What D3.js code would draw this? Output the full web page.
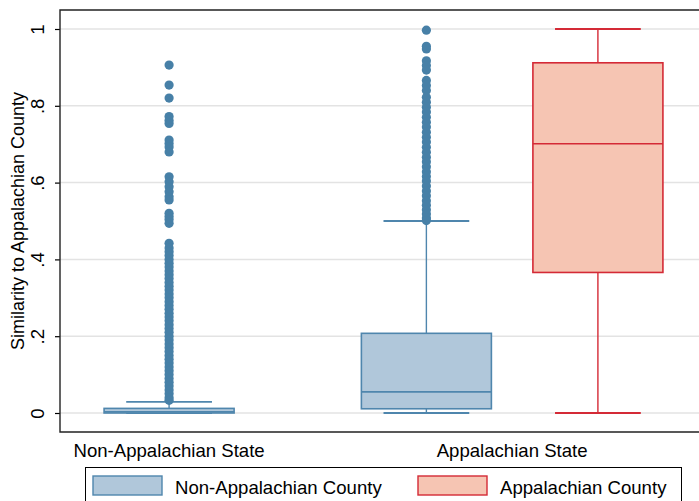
<!DOCTYPE html>
<html>
<head>
<meta charset="utf-8">
<script src="https://cdn.jsdelivr.net/npm/d3@7"></script>
<style>
  body { margin: 0; background: #fff; }
  text { font-family: "Liberation Sans", Arial, sans-serif; fill: #000; }
</style>
</head>
<body>
<div id="chart"></div>
<script>
// categories
var states = ["Non-Appalachian State", "Appalachian State"];
var countyTypes = ["Non-Appalachian County", "Appalachian County"];

// one entry per box
var boxState = ["Non-Appalachian State", "Appalachian State", "Appalachian State"];
var boxCounty = ["Non-Appalachian County", "Non-Appalachian County", "Appalachian County"];
var lowerWhisker = [0.0, 0.0, 0.0];
var q1 = [0.0, 0.011, 0.366];
var median = [0.003, 0.055, 0.701];
var q3 = [0.012, 0.2075, 0.912];
var upperWhisker = [0.029, 0.50, 1.0];

// outside values
var outliersNonAppState = [0.906, 0.854, 0.820, 0.772, 0.762, 0.754, 0.711, 0.702, 0.693, 0.680,
  0.615, 0.602, 0.589, 0.576, 0.563, 0.555, 0.520, 0.512, 0.504, 0.494, 0.442,
  0.430, 0.420, 0.410, 0.400, 0.390, 0.380, 0.370, 0.360, 0.350, 0.340, 0.330, 0.320,
  0.310, 0.300, 0.290, 0.280, 0.270, 0.260, 0.250, 0.240, 0.230, 0.220, 0.210, 0.200,
  0.190, 0.180, 0.170, 0.160, 0.150, 0.140, 0.130, 0.120, 0.110, 0.100, 0.090, 0.080,
  0.070, 0.060, 0.050, 0.040, 0.033];
var outliersAppStateNonApp = [0.997, 0.955, 0.948, 0.917, 0.905, 0.893, 0.866, 0.853, 0.840,
  0.822, 0.809, 0.796, 0.784, 0.770, 0.757, 0.745, 0.731, 0.718, 0.706, 0.692, 0.679,
  0.666, 0.654, 0.641, 0.628, 0.616, 0.604, 0.591, 0.578, 0.566, 0.553, 0.541, 0.529,
  0.518, 0.508, 0.501];
var outliersAppStateApp = [];
var outliers = [outliersNonAppState, outliersAppStateNonApp, outliersAppStateApp];

var yTicks = [0, 0.2, 0.4, 0.6, 0.8, 1];

var fillColor = {"Non-Appalachian County": "#b0c7da", "Appalachian County": "#f6c5b3"};
var lineColor = {"Non-Appalachian County": "#4f86ad", "Appalachian County": "#d42a36"};
var dotColor = "#4780a7";

var W = 699, H = 501;
var plot = {left: 60, top: 10, right: 707, bottom: 432};
var fontSize = "18.6px";

var svg = d3.select("#chart").append("svg")
    .attr("width", W)
    .attr("height", H);

// slot position of each box: boxes inside a state sit 1 apart, states 1.5 apart
var slots = [];
var s = 0;
boxState.forEach(function (st, i) {
    if (i > 0) s += (st === boxState[i - 1]) ? 1 : 1.5;
    slots.push(s);
});

var x = d3.scaleLinear()
    .domain([-0.636, slots[slots.length - 1] + 0.636])
    .range([plot.left, plot.right]);

var y = d3.scaleLinear()
    .domain([0, 1])
    .range([413, 29]);

var boxW = x(0.758) - x(0);
var capW = x(0.5) - x(0);

// grid
svg.append("g").selectAll("line")
    .data(yTicks)
    .enter().append("line")
    .attr("x1", plot.left).attr("x2", plot.right)
    .attr("y1", function (d) { return y(d); })
    .attr("y2", function (d) { return y(d); })
    .attr("stroke", "#e3e3e3")
    .attr("stroke-width", 1.5);

// y axis
var yAxis = svg.append("g")
    .attr("transform", "translate(" + plot.left + ",0)")
    .call(d3.axisLeft(y).tickValues(yTicks).tickSize(5).tickSizeOuter(0)
        .tickFormat(function (d) { return d === 0 || d === 1 ? String(d) : String(d).replace("0.", "."); }));
yAxis.select(".domain").remove();
yAxis.selectAll(".tick line").attr("stroke", "#000").attr("stroke-width", 1.2);
yAxis.selectAll(".tick text")
    .attr("x", 0).attr("dy", 0)
    .attr("text-anchor", "middle")
    .attr("transform", "translate(-16,0) rotate(-90)")
    .style("font-size", fontSize)
    .style("font-family", "'Liberation Sans', Arial, sans-serif");

// frame
svg.append("path")
    .attr("d", "M" + plot.right + "," + plot.top + "H" + plot.left + "V" + plot.bottom + "H" + plot.right)
    .attr("fill", "none")
    .attr("stroke", "#222")
    .attr("stroke-width", 1.4);

svg.append("text")
    .attr("transform", "translate(24," + ((plot.top + plot.bottom) / 2) + ") rotate(-90)")
    .attr("text-anchor", "middle")
    .style("font-size", "18px")
    .text("Similarity to Appalachian County");

// boxes
var boxes = boxState.map(function (st, i) {
    return {state: st, county: boxCounty[i], lo: lowerWhisker[i], q1: q1[i], med: median[i],
        q3: q3[i], hi: upperWhisker[i], out: outliers[i], slot: slots[i]};
});

var g = svg.selectAll(".box")
    .data(boxes)
    .enter().append("g")
    .attr("class", "box");

g.append("line") // upper whisker
    .attr("x1", function (d) { return x(d.slot); })
    .attr("x2", function (d) { return x(d.slot); })
    .attr("y1", function (d) { return y(d.q3); })
    .attr("y2", function (d) { return y(d.hi); })
    .attr("stroke", function (d) { return lineColor[d.county]; })
    .attr("stroke-width", 1.4);
g.append("line") // lower whisker
    .attr("x1", function (d) { return x(d.slot); })
    .attr("x2", function (d) { return x(d.slot); })
    .attr("y1", function (d) { return y(d.q1); })
    .attr("y2", function (d) { return y(d.lo); })
    .attr("stroke", function (d) { return lineColor[d.county]; })
    .attr("stroke-width", 1.4);
g.selectAll(".cap")
    .data(function (d) { return [{v: d.hi, d: d}, {v: d.lo, d: d}]; })
    .enter().append("line")
    .attr("x1", function (c) { return x(c.d.slot) - capW / 2; })
    .attr("x2", function (c) { return x(c.d.slot) + capW / 2; })
    .attr("y1", function (c) { return y(c.v); })
    .attr("y2", function (c) { return y(c.v); })
    .attr("stroke", function (c) { return lineColor[c.d.county]; })
    .attr("stroke-width", 1.8);

g.append("rect")
    .attr("x", function (d) { return x(d.slot) - boxW / 2; })
    .attr("y", function (d) { return y(d.q3); })
    .attr("width", boxW)
    .attr("height", function (d) { return Math.max(y(d.q1) - y(d.q3), 1); })
    .attr("fill", function (d) { return fillColor[d.county]; })
    .attr("stroke", function (d) { return lineColor[d.county]; })
    .attr("stroke-width", 1.6);
g.append("line") // median
    .attr("x1", function (d) { return x(d.slot) - boxW / 2; })
    .attr("x2", function (d) { return x(d.slot) + boxW / 2; })
    .attr("y1", function (d) { return y(d.med); })
    .attr("y2", function (d) { return y(d.med); })
    .attr("stroke", function (d) { return lineColor[d.county]; })
    .attr("stroke-width", 1.6);

g.selectAll("circle")
    .data(function (d) { return d.out.map(function (v) { return {v: v, slot: d.slot}; }); })
    .enter().append("circle")
    .attr("cx", function (p) { return x(p.slot); })
    .attr("cy", function (p) { return y(p.v); })
    .attr("r", 4.6)
    .attr("fill", dotColor);

// state labels under each group
svg.selectAll(".state")
    .data(states)
    .enter().append("text")
    .attr("class", "state")
    .attr("x", function (st) {
        return x(d3.mean(boxes.filter(function (b) { return b.state === st; }), function (b) { return b.slot; }));
    })
    .attr("y", 457)
    .attr("text-anchor", "middle")
    .style("font-size", fontSize)
    .text(function (st) { return st; });

// legend
var leg = svg.append("g");
leg.append("rect")
    .attr("x", 85.5).attr("y", 467.5)
    .attr("width", 596).attr("height", 50)
    .attr("fill", "#fff")
    .attr("stroke", "#000")
    .attr("stroke-width", 1);
var legX = [93, 418];
countyTypes.forEach(function (c, i) {
    leg.append("rect")
        .attr("x", legX[i]).attr("y", 476)
        .attr("width", 69).attr("height", 19)
        .attr("fill", fillColor[c])
        .attr("stroke", lineColor[c])
        .attr("stroke-width", 1.4);
    leg.append("text")
        .attr("x", legX[i] + 82).attr("y", 494)
        .style("font-size", fontSize)
        .text(c);
});
</script>
</body>
</html>
